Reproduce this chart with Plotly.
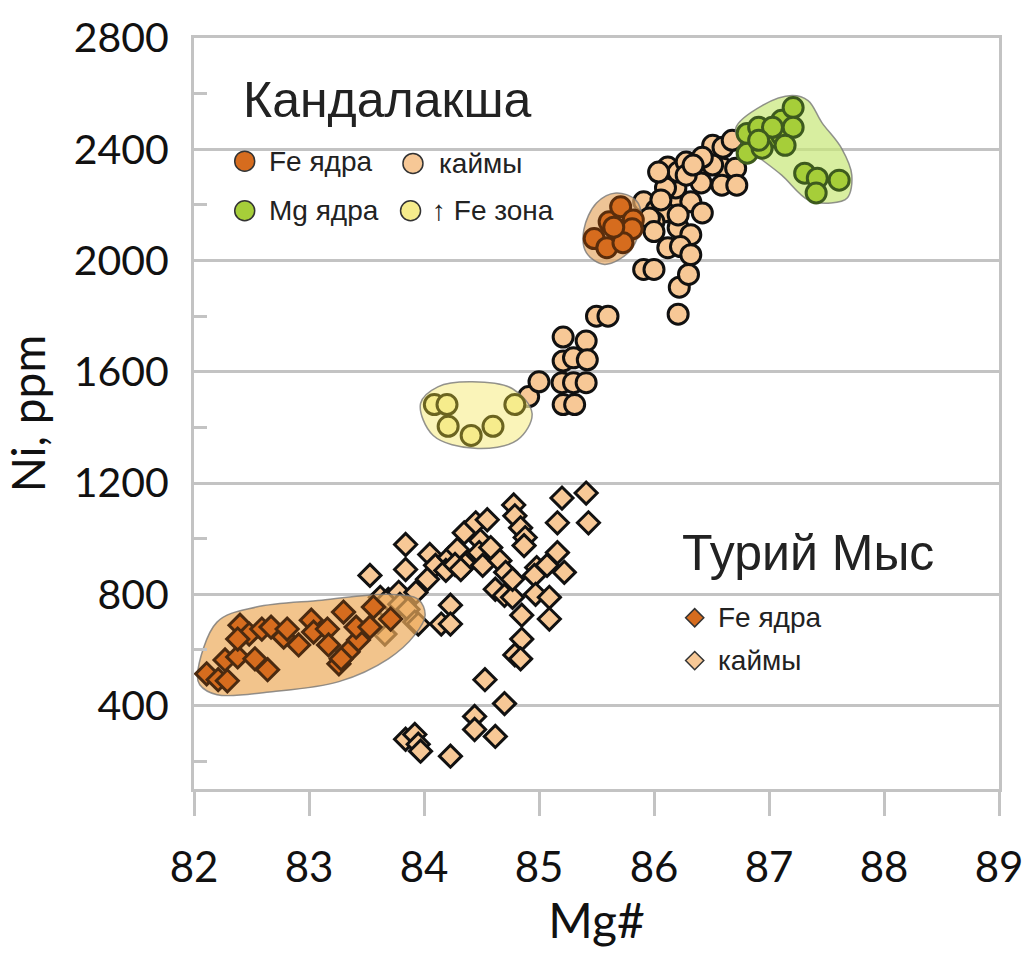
import plotly.graph_objects as go

# ---------------- data ----------------
# Кандалакша: Fe ядра (circles)
kan_fe_x = [85.48, 85.59, 85.61, 85.71, 85.72, 85.82, 85.81, 85.73, 85.65]
kan_fe_y = [2079, 2046, 2139, 2193, 2100, 2146, 2114, 2064, 2120]

# Кандалакша: каймы (circles)
kan_rim_x = [84.91, 85.00, 85.21, 85.41, 85.21, 85.30, 85.42, 85.20, 85.30, 85.41,
             85.21, 85.31, 85.50, 85.60, 86.21, 86.22,
             85.91, 86.02, 86.10, 86.00, 86.21, 86.19, 86.10, 86.12, 86.21, 86.28,
             86.41, 86.41, 86.32, 86.42, 86.21, 86.32, 86.12, 86.23, 86.32, 85.91,
             86.00, 86.30, 86.51, 86.60, 86.68, 86.60, 86.71, 86.59, 86.72, 86.51,
             86.42, 86.28, 86.34, 86.21, 86.04, 86.06, 85.96, 86.00]
kan_rim_y = [1511, 1564, 1725, 1711, 1639, 1650, 1643, 1561, 1561, 1561,
             1482, 1482, 1800, 1800, 1807, 1904,
             2211, 2182, 2175, 2139, 2225, 2261, 2261, 2336, 2318, 2354,
             2332, 2279, 2211, 2171, 2118, 2093, 2046, 2050, 2021, 1968,
             1968, 1950, 2414, 2407, 2432, 2332, 2332, 2271, 2271, 2343,
             2371, 2307, 2343, 2164, 2318, 2218, 2153, 2104]

# Кандалакша: Mg ядра (circles)
kan_mg_x = [86.81, 86.91, 86.92, 87.01, 87.11, 87.11, 87.21, 87.21, 87.14, 86.81,
            87.31, 87.42, 87.41, 87.61, 87.03, 86.94, 86.91]
kan_mg_y = [2457, 2479, 2425, 2443, 2504, 2450, 2550, 2479, 2414, 2386,
            2314, 2296, 2243, 2289, 2479, 2404, 2432]

# Кандалакша: ↑Fe зона (circles)
kan_zone_x = [84.09, 84.20, 84.21, 84.41, 84.60, 84.79]
kan_zone_y = [1482, 1482, 1404, 1371, 1404, 1482]

# Турий Мыс: Fe ядра (diamonds)
tur_fe_x = [82.11, 82.21, 82.29, 82.27, 82.38, 82.53, 82.64, 82.40, 82.48, 82.59,
            82.67, 82.78, 82.81, 82.91, 82.38, 83.02, 83.04, 83.16, 83.17, 83.26,
            83.34, 83.43, 83.41, 83.30, 83.56, 83.71, 83.53, 83.28]
tur_fe_y = [514, 493, 489, 564, 575, 568, 529, 689, 657, 675,
            682, 646, 675, 618, 639, 707, 664, 675, 618, 550,
            593, 636, 682, 736, 754, 711, 682, 568]

# Турий Мыс: каймы (diamonds)
tur_rim_x = [83.62, 83.69, 83.78, 83.79, 83.86, 83.92, 83.66, 83.93, 83.60,
             83.53, 83.84, 83.84, 84.05, 84.03, 84.10, 84.22, 84.19, 84.29, 84.35,
             84.45, 84.49, 84.55, 84.48, 84.36, 84.27, 84.32, 84.51, 84.58, 84.66,
             84.62, 84.70, 84.77, 84.78, 84.79, 84.84, 84.88, 84.87, 84.71, 84.77,
             84.85, 84.85, 84.79, 84.84, 84.98, 84.96, 85.07, 84.97, 85.09, 85.09,
             85.22, 85.16, 85.16, 85.20, 85.41, 85.43, 84.23, 84.15, 84.23, 83.95,
             84.53, 84.70, 84.44, 84.44, 84.62, 83.84, 83.92, 83.95, 83.97, 84.23]
tur_rim_y = [789, 782, 807, 764, 746, 700, 657, 807, 700,
             868, 979, 889, 943, 854, 904, 932, 886, 961, 1021,
             1057, 993, 1068, 950, 907, 907, 889, 904, 968, 921,
             818, 796, 789, 1121, 1082, 1039, 1004, 975, 879, 854,
             725, 639, 582, 568, 896, 868, 904, 800, 789, 711,
             879, 950, 1057, 1146, 1164, 1057, 761, 693, 693, 693,
             493, 407, 361, 314, 289, 279, 296, 261, 236, 218]

# outlined fields (data units)
tur_field_x = [82.03, 82.20, 82.54, 83.11, 83.69, 83.95, 84.01, 83.92, 83.69, 83.26, 82.68, 82.20, 82.05, 82.03]
tur_field_y = [511, 700, 754, 779, 800, 782, 725, 654, 568, 486, 450, 439, 475, 511]
mg_field_x = [86.71, 86.94, 87.20, 87.34, 87.46, 87.63, 87.72, 87.68, 87.54, 87.34, 87.11, 86.91, 86.77, 86.71]
mg_field_y = [2475, 2557, 2593, 2575, 2496, 2404, 2307, 2225, 2207, 2218, 2307, 2371, 2414, 2475]
fe_field_x = [85.67, 85.84, 85.89, 85.80, 85.57, 85.41, 85.39, 85.50, 85.67]
fe_field_y = [2243, 2218, 2157, 2039, 1986, 2029, 2111, 2207, 2243]
zone_field_x = [83.97, 84.12, 84.42, 84.77, 84.94, 84.81, 84.44, 84.08, 83.97]
zone_field_y = [1486, 1546, 1564, 1539, 1450, 1354, 1325, 1371, 1486]

x_ticks = [82, 83, 84, 85, 86, 87, 88, 89]
y_ticks = [400, 800, 1200, 1600, 2000, 2400, 2800]

# ---------------- styles ----------------
PEACH = "rgb(247,200,150)"
FE = "rgb(214,108,30)"
GREEN = "rgb(166,206,57)"
YELLOW = "rgb(246,236,140)"
GRID = "#C3C3C3"
NUMFONT = "Lato"
TXTFONT = "Liberation Sans"

fig = go.Figure()

def field(x, y, fill):
    fig.add_trace(go.Scatter(x=x, y=y, mode="lines", fill="toself", fillcolor=fill,
                             line=dict(color="rgba(120,120,120,0.8)", width=1.5, shape="spline", smoothing=1.0),
                             hoverinfo="skip", showlegend=False))

def pts(x, y, sym, size, fill, edge, lw):
    fig.add_trace(go.Scatter(x=x, y=y, mode="markers", showlegend=False,
                             marker=dict(symbol=sym, size=size, color=fill,
                                         line=dict(color=edge, width=lw))))

# rims first, then semi-transparent fields, then cores
pts(tur_rim_x, tur_rim_y, "diamond", 17, PEACH, "#111111", 3)
pts(kan_rim_x, kan_rim_y, "circle", 20, PEACH, "#111111", 3)
field(tur_field_x, tur_field_y, "rgba(236,171,91,0.7)")
field(mg_field_x, mg_field_y, "rgba(199,231,119,0.7)")
field(fe_field_x, fe_field_y, "rgba(231,171,105,0.7)")
field(zone_field_x, zone_field_y, "rgba(248,239,155,0.7)")
pts(tur_fe_x, tur_fe_y, "diamond", 17, FE, "#4A2A10", 3)
pts(kan_fe_x, kan_fe_y, "circle", 20, FE, "#5A2D0C", 3)
pts(kan_mg_x, kan_mg_y, "circle", 20, GREEN, "#3D5A1E", 3)
pts(kan_zone_x, kan_zone_y, "circle", 20, YELLOW, "#6B6420", 3)

# legend markers on an overlay axis (fractions of plot area)
leg_x = [0.063, 0.272, 0.063, 0.269]
leg_y = [0.836, 0.833, 0.770, 0.770]
leg_c = [FE, PEACH, GREEN, YELLOW]
fig.add_trace(go.Scatter(x=leg_x, y=leg_y, xaxis="x2", yaxis="y2", mode="markers", showlegend=False,
                         marker=dict(symbol="circle", size=20, color=leg_c, line=dict(color="#333333", width=1.5))))
fig.add_trace(go.Scatter(x=[0.622, 0.622], y=[0.228, 0.171], xaxis="x2", yaxis="y2", mode="markers",
                         showlegend=False,
                         marker=dict(symbol="diamond", size=14, color=[FE, PEACH],
                                     line=dict(color="#333333", width=1.5))))

ann = []
def txt(x, y, s, size):
    ann.append(dict(x=x, y=y, xref="paper", yref="paper", text=s, showarrow=False,
                    xanchor="left", yanchor="middle",
                    font=dict(family=TXTFONT, size=size, color="#222222")))

txt(0.058, 0.918, "Кандалакша", 50)
txt(0.091, 0.836, "Fe ядра", 28)
txt(0.302, 0.833, "каймы", 28)
txt(0.091, 0.770, "Mg ядра", 28)
txt(0.293, 0.770, "↑ Fe зона", 28)
txt(0.604, 0.314, "Турий Мыс", 50)
txt(0.649, 0.228, "Fe ядра", 28)
txt(0.649, 0.171, "каймы", 28)

fig.update_layout(
    width=1035, height=953,
    margin=dict(l=194, r=28, t=32, b=164),
    paper_bgcolor="white", plot_bgcolor="white",
    annotations=ann,
    xaxis=dict(range=[82, 89], tickvals=x_ticks, ticktext=[str(v) for v in x_ticks],
               showgrid=False, zeroline=False,
               showline=True, linecolor=GRID, linewidth=3, mirror=True,
               ticks="outside", ticklen=24, tickwidth=3, tickcolor=GRID,
               ticklabelstandoff=16,
               tickfont=dict(family=NUMFONT, size=42, color="#111111"),
               title=dict(text="Mg#", font=dict(family=NUMFONT, size=48, color="#111111"), standoff=14)),
    yaxis=dict(range=[100, 2800], tickvals=y_ticks, ticktext=[str(v) for v in y_ticks],
               showgrid=True, gridcolor=GRID, gridwidth=2.5, zeroline=False,
               showline=True, linecolor=GRID, linewidth=3, mirror=True,
               ticks="", ticklabelstandoff=14,
               minor=dict(tickvals=[200, 600, 1000, 1400, 1800, 2200, 2600], ticks="inside",
                          ticklen=13, tickwidth=3, tickcolor=GRID, showgrid=False),
               tickfont=dict(family=NUMFONT, size=41, color="#111111"),
               title=dict(text="Ni, ppm", font=dict(family=NUMFONT, size=46, color="#111111"), standoff=14)),
    xaxis2=dict(range=[0, 1], overlaying="x", visible=False, fixedrange=True),
    yaxis2=dict(range=[0, 1], overlaying="y", visible=False, fixedrange=True),
)

fig.write_html("out.html")
